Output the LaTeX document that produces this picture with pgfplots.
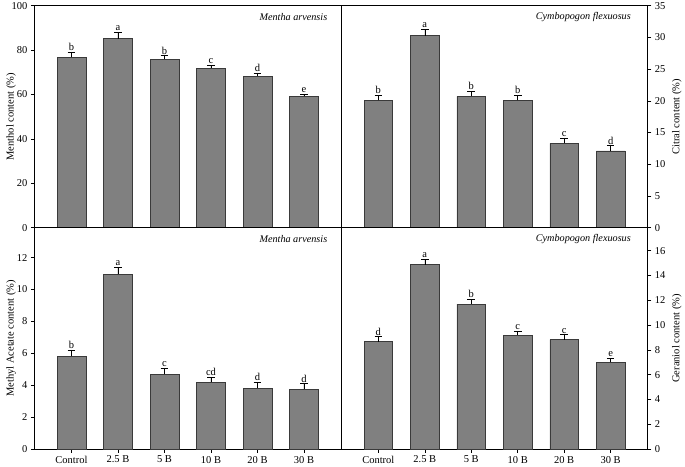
\documentclass[border=0pt]{standalone}
\usepackage{fontspec}
\setmainfont{Liberation Serif}
\usepackage{pgfplots}
\usepackage{pgfplotstable}
\pgfplotsset{compat=1.18}
\definecolor{barfill}{HTML}{808080}
\definecolor{baredge}{HTML}{3A3A3A}

\pgfplotstableread{
x v e l
0 76.7 2.3 b
1 85.1 3.0 a
2 75.8 1.7 b
3 71.8 1.3 c
4 68.3 1.4 d
5 59.2 1.0 e
}\menthol
\pgfplotstableread{
x v e l
0 20.07 0.85 b
1 30.3 0.95 a
2 20.7 0.85 b
3 20.07 0.80 b
4 13.3 0.85 c
5 12.1 0.85 d
}\citral
\pgfplotstableread{
x v e l
0 5.81 0.40 b
1 10.96 0.46 a
2 4.68 0.38 c
3 4.18 0.33 cd
4 3.80 0.40 d
5 3.74 0.36 d
}\methyl
\pgfplotstableread{
x v e l
0 8.66 0.40 d
1 14.87 0.46 a
2 11.70 0.40 b
3 9.20 0.32 c
4 8.82 0.40 c
5 6.99 0.32 e
}\geraniol

\pgfplotsset{
  panel/.style={
    anchor=south west,
    scale only axis,
    xmin=-0.8, xmax=5.8, ymin=0,
    xtick={0,...,5},
    xticklabels={Control,2.5 B,5 B,10 B,20 B,30 B},
    font=\fontsize{10.5bp}{12bp}\selectfont,
    /pgf/number format/assume math mode=true,
    tick align=outside,
    major tick length=3.5bp,
    axis line style={black, line width=0.7bp},
    every tick/.style={black, line width=0.6bp},
    xtick pos=bottom,
    clip=false,
  },
  toppanel/.style={xticklabels={}, major x tick style={draw=none}, height=222bp},
  botpanel/.style={height=221.3bp},
  leftpanel/.style={width=306.9bp, ytick pos=left,
    ylabel style={at={(axis description cs:-0.0596,0.5)}, anchor=south, inner sep=0pt}},
  rightpanel/.style={width=306.6bp, ytick pos=right, yticklabel pos=right,
    ylabel style={at={(axis description cs:1.0783,0.5)}, anchor=north, inner sep=0pt}},
  barplot/.style={ybar, bar width=28.7bp, fill=barfill, draw=baredge, line width=0.6bp,
    error bars/.cd, y dir=plus, y explicit,
    error bar style={black, line width=0.6bp},
    error mark options={rotate=90, mark size=3.8bp, line width=0.6bp, black}},
  lettplot/.style={draw=none, mark=none, only marks, nodes near coords,
    point meta=explicit symbolic,
    every node near coord/.style={anchor=south, inner sep=1.2bp, black, font=\fontsize{10.5bp}{12bp}\selectfont}},
}

\begin{document}
\begin{tikzpicture}
\useasboundingbox (0,0) rectangle (685bp,467bp);

% top left
\begin{axis}[panel, toppanel, leftpanel, at={(34.3bp,239.3bp)},
  ymax=100, ytick={0,20,...,100}, ylabel={Menthol content (\%)}]
\addplot[barplot] table[x=x, y=v, y error=e] {\menthol};
\addplot[lettplot] table[x=x, y expr=\thisrow{v}+\thisrow{e}, meta=l] {\menthol};
\node[anchor=east, font=\fontsize{10.2bp}{12bp}\selectfont\itshape] at (rel axis cs:0.966,0.95) {Mentha arvensis};
\end{axis}

% top right
\begin{axis}[panel, toppanel, rightpanel, at={(341.2bp,239.3bp)},
  ymax=35, ytick={0,5,...,35}, ylabel={Citral content (\%)}]
\addplot[barplot] table[x=x, y=v, y error=e] {\citral};
\addplot[lettplot] table[x=x, y expr=\thisrow{v}+\thisrow{e}, meta=l] {\citral};
\node[anchor=east, font=\fontsize{10.2bp}{12bp}\selectfont\itshape] at (rel axis cs:0.956,0.95) {Cymbopogon flexuosus};
\end{axis}

% bottom left
\begin{axis}[panel, botpanel, leftpanel, at={(34.3bp,18bp)},
  ymax=13.88, ytick={0,2,...,12}, ylabel={Methyl Acetate content (\%)}]
\addplot[barplot] table[x=x, y=v, y error=e] {\methyl};
\addplot[lettplot] table[x=x, y expr=\thisrow{v}+\thisrow{e}, meta=l] {\methyl};
\node[anchor=east, font=\fontsize{10.2bp}{12bp}\selectfont\itshape] at (rel axis cs:0.966,0.949) {Mentha arvensis};
\end{axis}

% bottom right
\begin{axis}[panel, botpanel, rightpanel, at={(341.2bp,18bp)},
  ymax=17.86, ytick={0,2,...,16}, ylabel={Geraniol content (\%)}]
\addplot[barplot] table[x=x, y=v, y error=e] {\geraniol};
\addplot[lettplot] table[x=x, y expr=\thisrow{v}+\thisrow{e}, meta=l] {\geraniol};
\node[anchor=east, font=\fontsize{10.2bp}{12bp}\selectfont\itshape] at (rel axis cs:0.956,0.949) {Cymbopogon flexuosus};
\end{axis}
\end{tikzpicture}
\end{document}
